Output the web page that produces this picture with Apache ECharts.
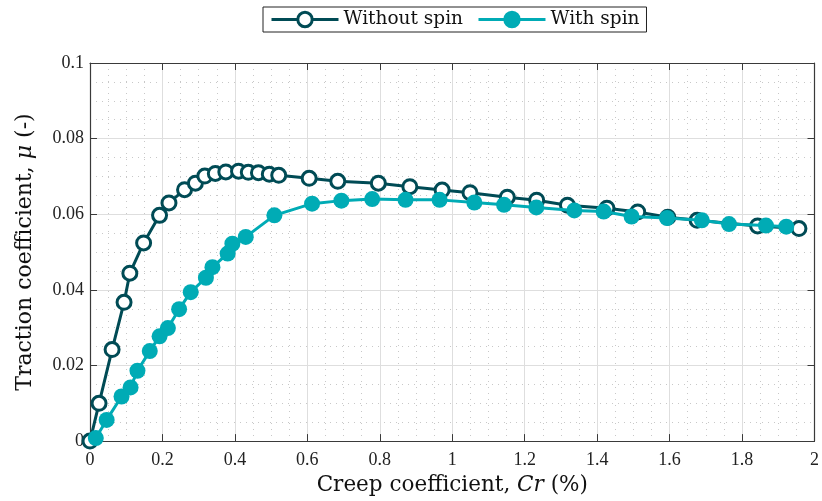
<!DOCTYPE html>
<html>
<head>
<meta charset="utf-8">
<script src="https://cdn.jsdelivr.net/npm/echarts@6/dist/echarts.min.js"></script>
<style>html,body{margin:0;padding:0;background:#fff}#c{width:822px;height:501px}</style>
</head>
<body>
<div id="c"></div>
<script>
const seriesNames = ['Without spin', 'With spin'];
const creepWithout = [0, 0.025, 0.061, 0.094, 0.110, 0.148, 0.192, 0.218, 0.261, 0.291, 0.317, 0.346, 0.375, 0.410, 0.437, 0.465, 0.495, 0.521, 0.605, 0.684, 0.796, 0.883, 0.972, 1.049, 1.152, 1.233, 1.318, 1.427, 1.512, 1.595, 1.676, 1.843, 1.957];
const muWithout = [0, 0.0100, 0.0242, 0.0367, 0.0444, 0.0524, 0.0597, 0.0630, 0.0665, 0.0682, 0.0701, 0.0708, 0.0712, 0.0714, 0.0711, 0.0710, 0.0706, 0.0703, 0.0695, 0.0687, 0.0682, 0.0673, 0.0664, 0.0657, 0.0645, 0.0637, 0.0624, 0.0616, 0.0606, 0.0592, 0.0584, 0.0569, 0.0562];
const creepWith = [0.016, 0.046, 0.087, 0.112, 0.131, 0.165, 0.192, 0.215, 0.246, 0.278, 0.320, 0.338, 0.380, 0.393, 0.430, 0.509, 0.613, 0.694, 0.779, 0.871, 0.965, 1.061, 1.143, 1.232, 1.337, 1.418, 1.495, 1.593, 1.689, 1.764, 1.866, 1.922];
const muWith = [0.0008, 0.0056, 0.0118, 0.0142, 0.0186, 0.0238, 0.0277, 0.0299, 0.0349, 0.0394, 0.0432, 0.0460, 0.0496, 0.0522, 0.0540, 0.0597, 0.0628, 0.0636, 0.0640, 0.0638, 0.0638, 0.0631, 0.0625, 0.0618, 0.0610, 0.0607, 0.0594, 0.0590, 0.0584, 0.0574, 0.0570, 0.0567];
const xTicks = {min: 0, max: 2, interval: 0.2};
const yTicks = {min: 0, max: 0.1, interval: 0.02};

const darkC = '#004b55';
const tealC = '#00abb5';
const axisC = '#3a3a3a';
const font = '"Liberation Serif", "DejaVu Serif", serif';
const wideFont = '"DejaVu Serif", "Liberation Serif", serif';

const zip = (a, b) => a.map((v, i) => [v, b[i]]);

const chart = echarts.init(document.getElementById('c'), null, {renderer: 'canvas'});

const baseAxis = (extra) => Object.assign({
  type: 'value',
  axisLine: {show: true, onZero: false, lineStyle: {color: axisC, width: 1.2}},
  axisTick: {show: true, inside: true, length: 7, lineStyle: {color: axisC, width: 1}},
  splitLine: {show: true, lineStyle: {color: '#dedede', width: 1}},
  minorTick: {show: false, splitNumber: 4},
  minorSplitLine: {show: true, lineStyle: {color: '#c8c8c8', width: 1, type: [1, 5]}},
}, extra);

const mkName = (size) => ({fontFamily: wideFont, fontSize: size, color: '#111',
  rich: {i: {fontFamily: wideFont, fontStyle: 'italic', fontSize: size, color: '#111'}}});

chart.setOption({
  animation: false,
  backgroundColor: '#fff',
  textStyle: {fontFamily: font},
  grid: {left: 90, right: 3, top: 63, bottom: 57, containLabel: false},
  legend: {
    data: seriesNames,
    left: 263, top: 7,
    padding: [3, 7, 3, 7],
    itemWidth: 67, itemHeight: 18, itemGap: 14,
    borderColor: '#222', borderWidth: 1, borderRadius: 0,
    backgroundColor: '#fff',
    lineStyle: {width: 3},
    itemStyle: {borderWidth: 3},
    textStyle: {fontFamily: wideFont, fontSize: 18.5, color: '#111'}
  },
  xAxis: [
    baseAxis(Object.assign({
      position: 'bottom',
      name: 'Creep coefficient, {i|Cr} (%)',
      nameLocation: 'middle', nameGap: 32,
      nameTextStyle: mkName(21.5),
      axisLabel: {fontFamily: font, fontSize: 18, color: '#222', margin: 10}
    }, xTicks)),
    baseAxis(Object.assign({
      position: 'top',
      axisLabel: {show: false}, splitLine: {show: false}, minorSplitLine: {show: false}
    }, xTicks))
  ],
  yAxis: [
    baseAxis(Object.assign({
      position: 'left',
      name: 'Traction coefficient, {i|μ} (-)',
      nameLocation: 'middle', nameGap: 54,
      nameTextStyle: mkName(22),
      axisLabel: {fontFamily: font, fontSize: 18, color: '#222', margin: 6}
    }, yTicks)),
    baseAxis(Object.assign({
      position: 'right',
      axisLabel: {show: false}, splitLine: {show: false}, minorSplitLine: {show: false}
    }, yTicks))
  ],
  series: [
    {
      name: seriesNames[0], type: 'line',
      data: zip(creepWithout, muWithout),
      symbol: 'circle', symbolSize: 14, showAllSymbol: true,
      lineStyle: {color: darkC, width: 3},
      itemStyle: {color: '#fff', borderColor: darkC, borderWidth: 3},
      emphasis: {disabled: true}, z: 3
    },
    {
      name: seriesNames[1], type: 'line',
      data: zip(creepWith, muWith),
      symbol: 'circle', symbolSize: 16, showAllSymbol: true,
      lineStyle: {color: tealC, width: 3},
      itemStyle: {color: tealC, borderColor: tealC, borderWidth: 0},
      emphasis: {disabled: true}, z: 4
    }
  ]
});
</script>
</body>
</html>
